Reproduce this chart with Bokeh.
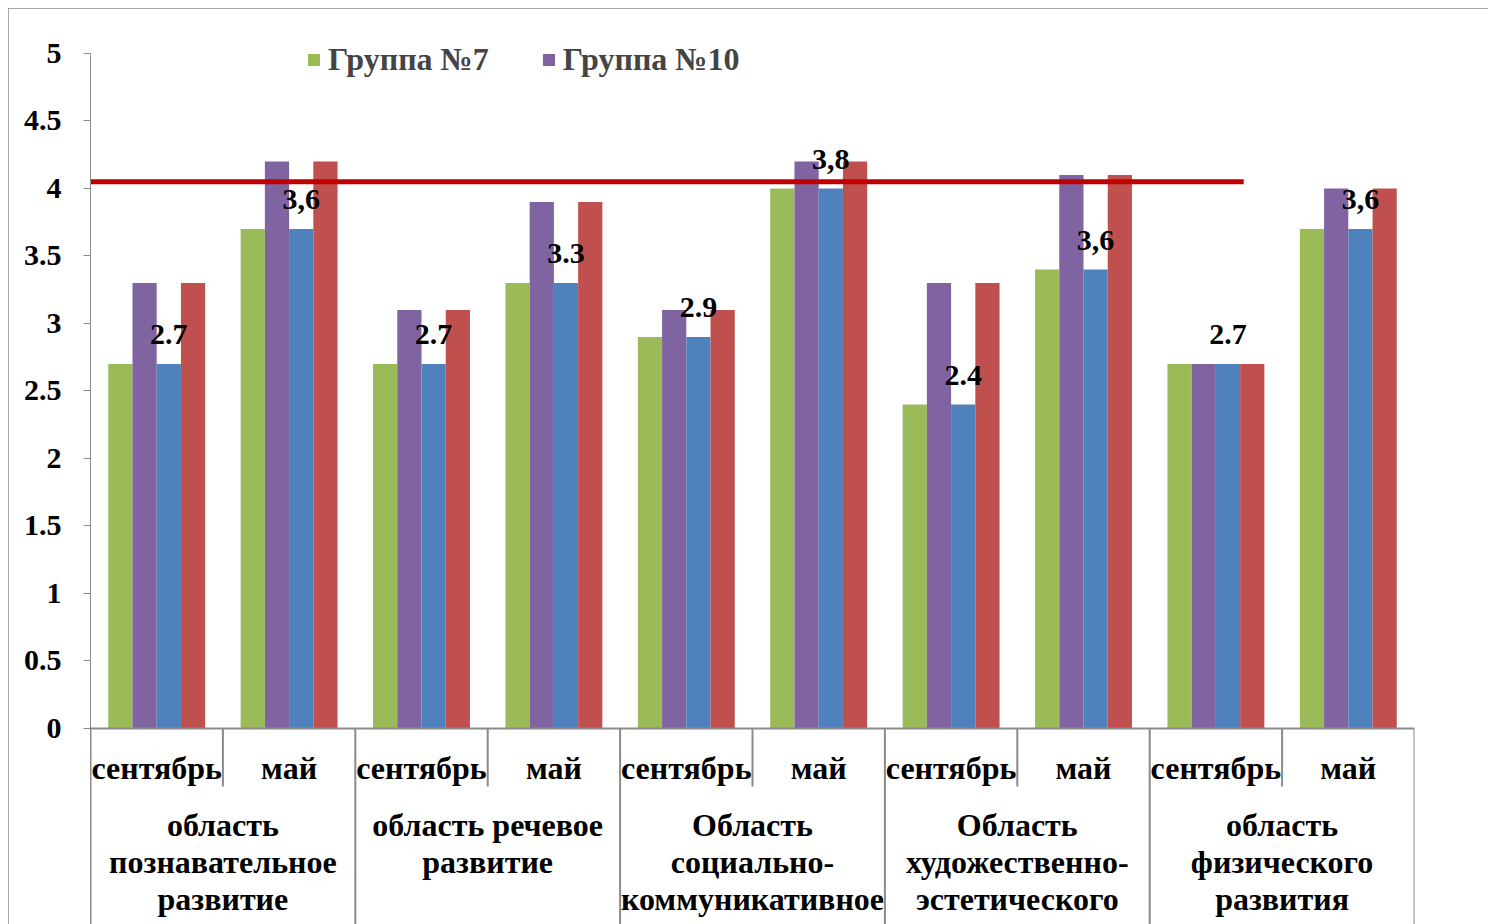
from bokeh.plotting import figure
from bokeh.models import (Range1d, ColumnDataSource, FixedTicker, CustomJSTickFormatter,
                          Legend, LegendItem)
from bokeh.transform import dodge
from bokeh.core.properties import value
from bokeh.embed import file_html
from bokeh.resources import INLINE

group_labels = ["область\nпознавательное\nразвитие", "область речевое\nразвитие",
                "Область\nсоциально-\nкоммуникативное", "Область\nхудожественно-\nэстетического",
                "область\nфизического\nразвития"]
periods = ["сентябрь", "май"]
green = [2.7, 3.7, 2.7, 3.3, 2.9, 4.0, 2.4, 3.4, 2.7, 3.7]
purple = [3.3, 4.2, 3.1, 3.9, 3.1, 4.2, 3.3, 4.1, 2.7, 4.0]
blue = [2.7, 3.7, 2.7, 3.3, 2.9, 4.0, 2.4, 3.4, 2.7, 3.7]
red = [3.3, 4.2, 3.1, 3.9, 3.1, 4.2, 3.3, 4.1, 2.7, 4.0]
labels = ["2.7", "3,6", "2.7", "3.3", "2.9", "3,8", "2.4", "3,6", "2.7", "3,6"]
series_names = ["Группа №7", "Группа №10"]
ref_level = 4.05
ref_span = [0, 8.71]
y_ticks = [0, 0.5, 1, 1.5, 2, 2.5, 3, 3.5, 4, 4.5, 5]

FONT = value("Liberation Serif")
AX = "#8a8a8a"

n_cat = len(green)
n_grp = len(group_labels)
xc = [i + 0.5 for i in range(n_cat)]          # category centres
pers = [periods[i % 2] for i in range(n_cat)]
src = ColumnDataSource(dict(x=xc, green=green, purple=purple, blue=blue, red=red, lab=labels, per=pers))

p = figure(width=1480, height=916, output_backend="svg", toolbar_location=None,
           x_range=Range1d(0, n_cat), y_range=Range1d(-1.452, 5.148), x_axis_location=None,
           min_border_left=82, min_border_right=74, min_border_top=25, min_border_bottom=0)
p.margin = (8, 0, 0, 8)
p.styles = {"outline": "2px solid #8c8c8c", "outline-offset": "-2px"}
p.outline_line_color = None
p.grid.visible = False

yax = p.yaxis[0]
yax.bounds = (-1.452, 5)
yax.ticker = FixedTicker(ticks=y_ticks)
yax.formatter = CustomJSTickFormatter(code="return tick.toString()")
yax.axis_line_color = AX
yax.major_tick_line_color = AX
yax.minor_tick_line_color = None
yax.major_tick_out = 7
yax.major_tick_in = 0
yax.major_label_text_font = "Liberation Serif"
yax.major_label_text_font_style = "bold"
yax.major_label_text_font_size = "30px"
yax.major_label_text_color = "black"
yax.major_label_standoff = 22

w = 0.183
cols = [("green", "#9BBB59", -1.5), ("purple", "#8064A2", -0.5), ("blue", "#4F81BD", 0.5), ("red", "#C0504D", 1.5)]
rends = {}
for name, color, k in cols:
    rends[name] = p.vbar(x=dodge("x", k * w), top=name, width=w, bottom=0,
                         source=src, fill_color=color, line_color=None)

# x axis line and separators
bottom = p.y_range.start
major_b = [2 * g for g in range(n_grp + 1)]
minor_b = [2 * g + 1 for g in range(n_grp)]
p.segment(x0=[0], y0=[0], x1=[n_cat], y1=[0], line_color=AX, line_width=2)
p.segment(x0=major_b, y0=[0] * len(major_b), x1=major_b, y1=[bottom] * len(major_b),
          line_color=AX, line_width=2)
p.segment(x0=minor_b, y0=[0] * len(minor_b), x1=minor_b, y1=[-0.43] * len(minor_b),
          line_color=AX, line_width=2)

# reference line
p.segment(x0=[ref_span[0]], y0=[ref_level], x1=[ref_span[1]], y1=[ref_level],
          line_color="#C00000", line_width=5)

# data labels above blue bars
p.text(x=dodge("x", 0.5 * w), y="blue", text="lab", source=src, text_font=FONT,
       text_font_style="bold", text_font_size="30px", text_align="center", text_baseline="alphabetic",
       y_offset=-29, text_color="black")

# sub-category labels
p.text(x="x", y=-0.29, text="per", source=src, text_font=FONT, text_font_style="bold",
       text_font_size="32px", text_align="center", text_baseline="middle", text_color="black")

# group labels
p.text(x=minor_b, y=[-0.585] * n_grp, text=group_labels, text_font=FONT,
       text_font_style="bold", text_font_size="32px", text_align="center", text_baseline="top",
       text_line_height=1.02, text_color="black")

legend = Legend(items=[LegendItem(label=series_names[0], renderers=[rends["green"]]),
                       LegendItem(label=series_names[1], renderers=[rends["purple"]])],
                orientation="horizontal", location=(216, 846))
legend.label_text_font = "Liberation Serif"
legend.label_text_font_style = "bold"
legend.label_text_font_size = "32px"
legend.glyph_width = 15
legend.glyph_height = 15
legend.label_standoff = 7
legend.spacing = 52
legend.padding = 0
legend.margin = 0
legend.border_line_color = None
legend.background_fill_alpha = 0
p.add_layout(legend)

open("out.html", "w").write(file_html(p, INLINE))
